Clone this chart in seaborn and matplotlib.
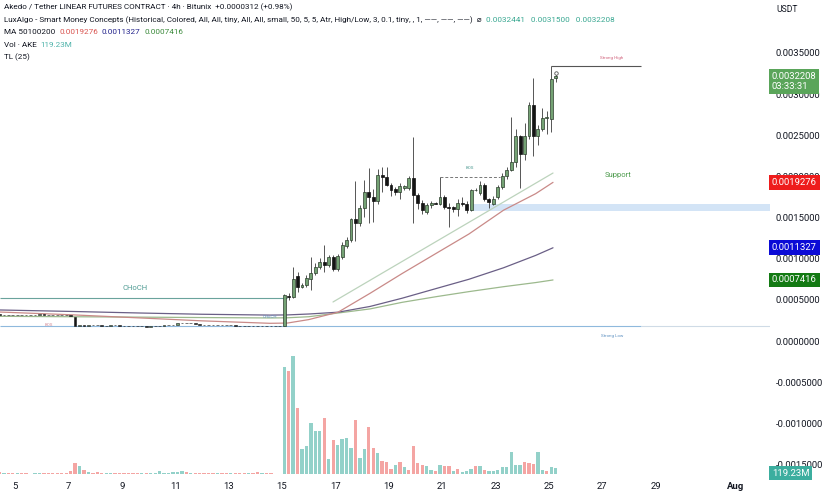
import matplotlib
matplotlib.use("Agg")
import matplotlib.pyplot as plt
import matplotlib.transforms as mtransforms
import numpy as np
import seaborn as sns

# ---- data (prices in units of 1e-7 USDT, 4h candles) ----
# Jul 4 08:00 .. Jul 14 20:00
pre_open = [3230, 3210, 3220, 3200, 3190, 3200, 3180, 3170, 3190, 3210, 3240, 3220, 3200, 3180, 3150, 3130,
            3100, 2950,
            1810, 1900, 1880, 1920, 1900, 1890, 1870, 1880, 1900, 1890, 1860, 1840,
            1820, 1790, 1770, 1780, 1760, 1770,
            1800, 1850, 1900, 1950,
            2000, 2150, 2200, 2180, 2190, 2100,
            2000, 1950, 1940, 1930, 1950, 1940, 1920,
            1930, 1880, 1870, 1850, 1860, 1840, 1830, 1850, 1840, 1820, 1830]
pre_close = [3210, 3220, 3200, 3190, 3200, 3180, 3170, 3190, 3210, 3240, 3220, 3200, 3180, 3150, 3130, 3100,
             3000, 1800,
             1900, 1880, 1920, 1900, 1890, 1870, 1880, 1900, 1890, 1860, 1840, 1820,
             1790, 1770, 1780, 1760, 1770, 1800,
             1850, 1900, 1950, 2000,
             2150, 2200, 2180, 2190, 2100, 2000,
             1950, 1940, 1930, 1950, 1940, 1920, 1930,
             1880, 1870, 1850, 1860, 1840, 1830, 1850, 1840, 1820, 1830, 1850]
pre_volume = [40, 30, 30, 30, 20, 20, 20, 10, 20, 20, 30, 20, 20, 20, 20, 30,
              60, 220,
              160, 80, 40, 30, 40, 30, 20, 20, 20, 20, 20, 20,
              20, 20, 20, 20, 20, 20,
              60, 30, 20, 40,
              40, 60, 40, 30, 20, 20,
              20, 20, 20, 20, 20, 20, 20,
              20, 20, 20, 20, 20, 40, 30, 20, 20, 10, 10]

# Jul 15 00:00 onwards
post_open = [1850, 5450, 5350, 7900, 6600, 6800, 7500, 8300, 9000, 9600,
             9200, 10200, 8700, 10200, 11500, 12300, 14800, 14300, 16200, 18100,
             17500, 17000, 20200, 19900, 19000, 18500, 18100, 18600, 18600, 19800,
             17700, 16800, 15700, 16500, 16800, 16700, 17500, 16300, 16300, 16000,
             16800, 16700, 15900, 18300, 18000, 19000, 17200, 16700, 17500, 18700,
             20000, 20800, 21700, 24900, 22700, 24900, 28700, 24900, 25800, 27100,
             27000, 31900]
post_high = [5700, 5800, 9000, 8400, 7000, 8000, 10200, 9500, 10100, 11700,
             10500, 10500, 10600, 12000, 12600, 15000, 19400, 16500, 19600, 21000,
             18500, 20900, 21200, 21200, 19200, 18700, 19200, 19000, 20000, 24800,
             18000, 17100, 16800, 17000, 16900, 19900, 17700, 16800, 16400, 17200,
             17500, 17000, 18500, 18600, 19500, 19200, 17400, 17600, 18900, 20400,
             21100, 27200, 25800, 25000, 26500, 29000, 31900, 26200, 28300, 28000,
             33400, 32441]
post_low = [1820, 5000, 5200, 6000, 6400, 6600, 6200, 8000, 8800, 8400,
            9000, 8500, 8500, 10000, 11300, 12000, 12100, 14000, 15100, 14300,
            14500, 16600, 18100, 18800, 17600, 17700, 17300, 18300, 18300, 14300,
            16000, 15400, 15400, 16200, 16600, 16500, 16000, 13800, 15700, 15200,
            16400, 15500, 15800, 18200, 17800, 17000, 16100, 16500, 17300, 18500,
            19700, 20600, 21200, 18600, 22000, 24500, 22500, 23800, 25500, 25200,
            25400, 31500]
post_close = [5600, 5300, 7530, 6600, 6800, 7700, 8300, 9000, 9600, 9200,
              10200, 8700, 10300, 11700, 12300, 14800, 14300, 16200, 18100, 17500,
              17000, 20200, 19900, 19000, 18300, 18100, 18800, 18800, 19800, 17700,
              16800, 15900, 16500, 16800, 16700, 17500, 16300, 16200, 16000, 16800,
              16600, 15900, 18300, 18400, 19000, 17200, 16900, 17300, 18700, 20000,
              20800, 21800, 24900, 22700, 24900, 28700, 24900, 25800, 27100, 27200,
              31800, 32208]
# volume in millions, 1 = up (teal), 0 = down (red)
post_volume = [2140, 2060, 2360, 1320, 500, 560, 1020, 860, 860, 1120,
               300, 680, 580, 700, 720, 520, 1080, 320, 500, 940,
               520, 420, 260, 240, 100, 180, 240, 140, 80, 560,
               220, 180, 160, 80, 60, 180, 160, 160, 60, 100,
               40, 60, 100, 160, 160, 80, 60, 60, 80, 140,
               140, 440, 180, 180, 240, 220, 200, 440, 80, 60,
               140, 119.23]
post_vol_up = [1, 0, 1, 0, 1, 1, 1, 1, 1, 0,
               1, 0, 1, 1, 1, 1, 0, 1, 1, 0,
               0, 1, 0, 0, 0, 1, 0, 1, 0, 0,
               0, 0, 1, 1, 0, 1, 0, 0, 1, 0,
               1, 1, 1, 0, 1, 0, 1, 1, 1, 1,
               1, 1, 1, 1, 0, 0, 0, 1, 1, 0,
               1, 1]

# moving averages (MA 50 / 100 / 200), read at these days of July
ma_days = [4.44, 7.0, 9.7, 12.0, 14.55, 15.2, 16.0, 17.1, 18.3, 19.5, 20.8, 22.0, 23.3, 24.5, 25.15]
ma50 = [3520, 3200, 2800, 2450, 2150, 2180, 2600, 3500, 5800, 8200, 10700, 13000, 15900, 17900, 19276]
ma100 = [3770, 3600, 3400, 3250, 3150, 3170, 3280, 3500, 4200, 5200, 6400, 7500, 8900, 10400, 11327]
ma200 = [3000, 2950, 2900, 2850, 2800, 2820, 2950, 3400, 3900, 4700, 5400, 6000, 6600, 7100, 7416]
tl_days = [16.91, 25.15]
tl_vals = [4740, 20410]

date_ticks = [5, 7, 9, 11, 13, 15, 17, 19, 21, 23, 25, 27, 29, 32]
date_labels = ["5", "7", "9", "11", "13", "15", "17", "19", "21", "23", "25", "27", "29", "Aug"]
price_ticks = [0.0035, 0.0030, 0.0025, 0.0020, 0.0015, 0.0010, 0.0005, 0.0, -0.0005, -0.0010, -0.0015]

U = 1e-7
UP, DOWN = "#74a274", "#141414"

sns.set_theme(style="white")
plt.rcParams["font.family"] = ["Roboto", "DejaVu Sans"]

W, H = 829, 495
fig = plt.figure(figsize=(W / 100, H / 100), dpi=100)
ax = fig.add_axes([0, 19 / H, 770 / W, 476 / H])
ax.set_xlim(4.438, 33.277)
ax.set_ylim(-0.0016403, 0.0041434)
for s in ax.spines.values():
    s.set_visible(False)

pre_o = np.array(pre_open) * U
pre_c = np.array(pre_close) * U
n_pre = len(pre_o)
t_pre = 15 - (n_pre - np.arange(n_pre)) / 6 + 1 / 12
o = np.array(post_open) * U
h = np.array(post_high) * U
l = np.array(post_low) * U
c = np.array(post_close) * U
t_post = 15 + np.arange(len(o)) / 6 + 1 / 12

# volume (overlay scale)
vax = ax.twinx()
vax.set_ylim(-40, 9480)
vax.set_axis_off()
pre_up = pre_c >= pre_o
vax.bar(t_pre, pre_volume, width=0.125, linewidth=0,
        color=np.where(pre_up, "#93d1c9", "#f4a5a3"))
vax.bar(t_post, post_volume, width=0.125, linewidth=0,
        color=np.where(np.array(post_vol_up) == 1, "#93d1c9", "#f4a5a3"))

# structure annotations
ax.axhspan(0.001580, 0.001665, xmin=(22.05 - 4.438) / 28.839, xmax=1, color="#d3e4f6", lw=0, zorder=1)
ax.hlines(0.000522, 4.438, 15.19, color="#6aa39c", lw=0.8, zorder=2)
ax.text(9.49, 0.000644, "CHoCH", color="#4f9b93", fontsize=5.5, ha="center", va="center")
ax.text(14.55, 0.000290, "CHoCH", color="#5b8fc0", fontsize=3.2, ha="center", va="center")
ax.text(6.27, 0.000194, "BOS", color="#d28a96", fontsize=3.2, ha="center", va="center")
ax.hlines(0.000182, 4.438, 28.45, color="#8fb9dd", lw=0.8, zorder=2)
ax.hlines(0.000182, 28.45, 33.277, color="#cfdbe6", lw=0.8, zorder=2)
ax.text(27.36, 0.00006, "Strong Low", color="#5b8fc0", fontsize=3.2, ha="center", va="center")
ax.hlines(0.003342, 25.08, 28.45, color="#555555", lw=0.8, zorder=2)
ax.text(27.36, 0.003440, "Strong High", color="#d0607a", fontsize=3.2, ha="center", va="center")
ax.hlines(0.001990, 20.92, 23.17, color="#777777", lw=0.7, linestyles=(0, (3, 2)), zorder=2)
ax.text(22.04, 0.002100, "BOS", color="#4f9b93", fontsize=3.2, ha="center", va="center")
ax.text(27.58, 0.002020, "Support", color="#4c9a4c", fontsize=5.5, ha="center", va="center")

# moving averages and trend line
ma_days_a = np.array(ma_days)
sns.lineplot(x=ma_days_a, y=np.array(ma200) * U, ax=ax, color="#9cb98d", lw=0.9, legend=False, zorder=2)
sns.lineplot(x=ma_days_a, y=np.array(ma100) * U, ax=ax, color="#6a5f86", lw=0.9, legend=False, zorder=2)
sns.lineplot(x=ma_days_a, y=np.array(ma50) * U, ax=ax, color="#c98a88", lw=0.9, legend=False, zorder=2)
sns.lineplot(x=tl_days, y=np.array(tl_vals) * U, ax=ax, color="#bcd3bc", lw=0.9, legend=False, zorder=2)

# candles
ax.bar(t_pre, np.abs(pre_c - pre_o), bottom=np.minimum(pre_o, pre_c), width=0.1,
       color=np.where(pre_up, UP, DOWN), edgecolor="#151515", linewidth=0.4, zorder=4)
up = c >= o
ax.vlines(t_post, l, h, color="#3a3a3a", lw=0.6, zorder=3)
ax.bar(t_post, np.abs(c - o), bottom=np.minimum(o, c), width=0.11,
       color=np.where(up, UP, DOWN), edgecolor=np.where(up, "#2c3d2c", "#111111"),
       linewidth=0.5, zorder=4)
ax.plot(t_post[-1] + 0.02, c[-1] + 0.00004, "o", ms=2.5, mfc="white", mec="#555555", mew=0.6, zorder=5)

# axes ticks
ax.set_xticks(date_ticks)
ax.set_xticklabels(date_labels)
for lab in ax.get_xticklabels():
    if lab.get_text() == "Aug":
        lab.set_fontweight("bold")
ax.tick_params(axis="x", length=0, pad=4, labelsize=6.8, colors="#131722")
ax.yaxis.tick_right()
ax.set_yticks(price_ticks)
ax.set_yticklabels([f"{v:.7f}" if v != 0 else "0.0000000" for v in price_ticks])
ax.tick_params(axis="y", length=0, pad=4, labelsize=6.8, colors="#131722")
ax.grid(False)

# price scale labels
tr = mtransforms.blended_transform_factory(ax.transAxes, ax.transData)
box_x = 1.0 + 2 / 770
ax.text(box_x, c[-1] - 0.000067, "0.0032208\n03:33:31", transform=tr, ha="left", va="center",
        fontsize=6.8, color="white", linespacing=1.1, clip_on=False, zorder=10,
        bbox=dict(boxstyle="square,pad=0.3", fc="#5aa55a", ec="none"))
for val, col in [(0.0019276, "#ee1c1c"), (0.0011327, "#0b0bd6"), (0.0007416, "#137a13")]:
    ax.text(box_x, val, f"{val:.7f}", transform=tr, ha="left", va="center", fontsize=6.8,
            color="white", clip_on=False, zorder=10,
            bbox=dict(boxstyle="square,pad=0.3", fc=col, ec="none"))
vtr = mtransforms.blended_transform_factory(vax.transAxes, vax.transData)
vax.text(box_x, 20, "119.23M", transform=vtr, ha="left", va="center", fontsize=6.8,
         color="white", clip_on=False, zorder=10,
         bbox=dict(boxstyle="square,pad=0.3", fc="#3cae9f", ec="none"))
fig.text(776 / W, 1 - 9 / H, "USDT", fontsize=6.2, color="#131722", va="center", ha="left")

# legend header lines
renderer = fig.canvas.get_renderer()
DARK = "#131722"


def header(y_px, parts, size=5.9):
    x = 4 / W
    for txt, col in parts:
        t = fig.text(x, 1 - y_px / H, txt, color=col, fontsize=size, va="center", ha="left")
        bb = t.get_window_extent(renderer)
        x = bb.x1 / W


header(7, [("Akedo / Tether LINEAR FUTURES CONTRACT · 4h · Bitunix  +0.0000312 (+0.98%)", DARK)])
header(20, [("LuxAlgo - Smart Money Concepts (Historical, Colored, All, All, tiny, All, All, small, 50, 5, 5, "
             "Atr, High/Low, 3, 0.1, tiny, , 1, ——, ——, ——)  ⌀  ", DARK),
            ("0.0032441   0.0031500   0.0032208", "#3aa892")])
header(32, [("MA 50100200  ", DARK), ("0.0019276", "#d9534f"), ("  ", DARK),
            ("0.0011327", "#23238c"), ("  ", DARK), ("0.0007416", "#3b8a3b")])
header(45, [("Vol · AKE  ", DARK), ("119.23M", "#4fb3aa")])
header(57, [("TL (25)", DARK)])

fig.savefig("out.png", dpi=100, facecolor="white")
